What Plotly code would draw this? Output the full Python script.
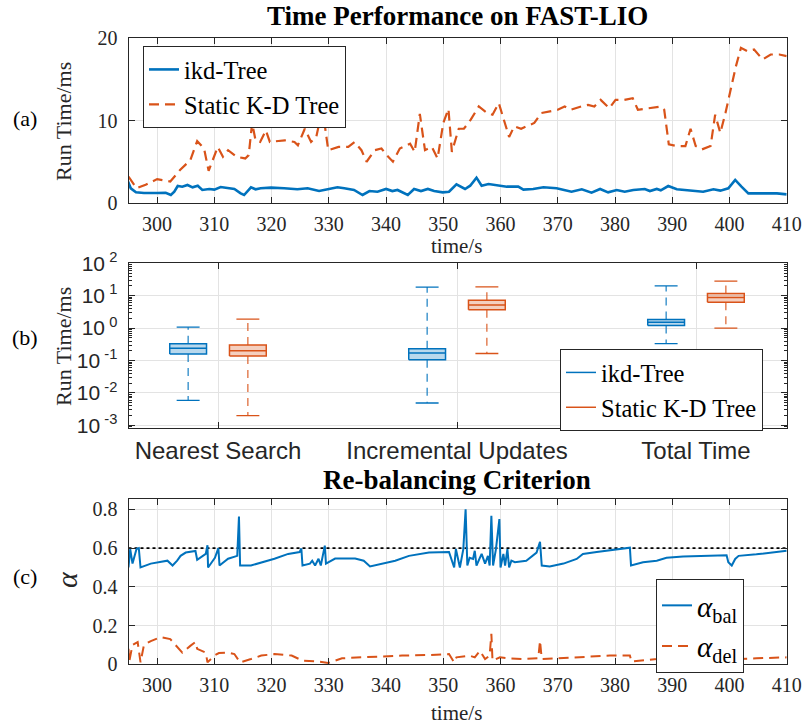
import plotly.graph_objects as go

# ---------------- data ----------------
# (a) run time per scan on FAST-LIO [ms]
t_ikd = [294.8, 295.4, 296.3, 297.7, 300, 301.5, 302.4, 303, 303.6, 304.4,
         305.3, 306.2, 307.1, 307.9, 309.1, 310, 311.1, 312.3, 313.5, 314.6,
         315.2, 316.4, 317.2, 318.1, 319.9, 322.2, 324.5, 326.3, 328.3, 329.8,
         331.5, 332.7, 334.4, 335.9, 337.1, 338.5, 340, 341.1, 342, 343.8,
         344.9, 346.1, 347.3, 348.4, 349.9, 351, 352.3, 353.8, 354.7, 355.8,
         356.7, 357.9, 359.3, 361.1, 363.1, 364, 365.7, 367.5, 369.8, 372.4,
         374.2, 375.9, 377.4, 378.8, 380.3, 381.7, 383.2, 385.2, 386.1, 387.3,
         388, 389.3, 390.8, 393.1, 395.4, 397.2, 398.4, 399.8, 401, 402.1,
         403.3, 405.9, 408.3, 410]
v_ikd = [2.8, 1.78, 1.29, 1.21, 1.21, 1.25, 0.97, 1.37, 2.06, 1.98,
         2.18, 1.9, 2.1, 1.58, 1.7, 1.62, 1.94, 1.86, 1.7, 1.17,
         0.97, 1.9, 1.66, 1.78, 1.86, 1.78, 1.66, 1.78, 1.45, 1.66,
         1.9, 1.78, 1.58, 0.97, 1.45, 1.37, 1.7, 1.45, 1.58, 0.97,
         1.7, 1.45, 1.7, 1.45, 1.29, 1.37, 2.26, 1.7, 2.1, 3.07,
         2.1, 2.3, 2.18, 1.98, 1.98, 1.62, 1.7, 1.9, 1.78, 1.37,
         1.66, 1.25, 1.7, 1.29, 1.58, 1.37, 1.58, 1.7, 1.45, 1.7,
         1.54, 2.06, 1.66, 1.5, 1.37, 1.66, 1.5, 1.78, 2.79, 1.98,
         1.17, 1.17, 1.17, 1.05]

t_static = [295, 296.4, 298, 300, 302.3, 304, 305.8, 307, 308.2, 309,
            310.6, 311.5, 312.4, 313.9, 315.4, 316, 316.6, 317.2, 318, 319,
            319.7, 322.3, 324, 324.6, 325.8, 326.9, 327.8, 328.4, 329, 329.9,
            331.7, 333.4, 334.5, 335.7, 336.6, 338, 339.2, 340.1, 341.2, 342.4,
            344.2, 345, 345.9, 346.8, 348, 349, 350, 350.9, 351.5, 352.7,
            353.6, 354.8, 356.2, 357.7, 358.6, 359.7, 361.5, 362.4, 363.6, 365.9,
            367.1, 368.3, 370, 371.2, 372.3, 374.1, 375.3, 376.4, 377.5, 379,
            380.1, 381.6, 383.1, 384, 385.7, 388, 388.6, 389.4, 390.9, 392.3,
            393.2, 394.1, 395.2, 396.7, 397.5, 398.4, 399.3, 400.2, 401.1, 402,
            403.1, 404.3, 405.8, 407.2, 408.7, 410]
v_static = [3.2, 1.8, 2.2, 2.9, 2.6, 4.0, 5.2, 7.5, 6.6, 3.9,
            6.8, 5.6, 6.4, 5.6, 5.4, 5.8, 9.7, 7.6, 7.4, 8.8,
            7.4, 7.6, 7.4, 7.0, 9.0, 7.4, 8.0, 9.9, 10.9, 6.4,
            6.8, 6.8, 7.4, 6.4, 5.0, 6.4, 6.6, 5.8, 5.0, 6.6,
            7.2, 6.2, 10.8, 6.4, 6.8, 5.4, 9.7, 11.4, 6.2, 9.0,
            9.0, 10.1, 11.7, 10.9, 10.7, 12.1, 8.0, 9.3, 9.0, 9.7,
            10.9, 11.1, 11.3, 11.7, 11.3, 11.7, 11.9, 11.7, 12.5, 11.5,
            12.5, 12.5, 12.7, 11.3, 11.5, 11.7, 11.3, 7.1, 6.9, 6.9,
            9.0, 6.9, 6.5, 6.9, 10.7, 8.5, 10.9, 13.7, 16.5, 18.8,
            18.4, 18.6, 17.4, 18.0, 18.0, 17.8]

# (b) run time statistics [ms]
categories = ["Nearest Search", "Incremental Updates", "Total Time"]
ikd_lower = [0.0059, 0.0049, 0.335]
ikd_q1 = [0.16, 0.105, 1.2]
ikd_median = [0.24, 0.17, 1.53]
ikd_q3 = [0.33, 0.23, 1.84]
ikd_upper = [1.07, 18.5, 20.0]
static_lower = [0.002, 0.165, 1.0]
static_q1 = [0.137, 3.7, 6.3]
static_median = [0.20, 5.2, 8.8]
static_q3 = [0.30, 7.3, 11.7]
static_upper = [1.9, 18.8, 28.0]

# (c) re-balancing criterion
t_bal = [295, 295.3, 295.7, 296.4, 296.8, 297.1, 298.9, 300.6, 301.8, 302.7,
         303.5, 304.1, 305, 306.7, 307, 308.5, 308.8, 308.9, 310.1, 310.7,
         310.9, 312.4, 314, 314.3, 314.5, 316.4, 318.2, 320.5, 322.9, 324.9,
         325.2, 325.4, 326.7, 327.1, 327.6, 328.2, 328.6, 329.3, 329.5, 331.1,
         334.6, 336.1, 337.2, 339.3, 341.6, 344, 347.5, 351, 351.9, 352.2,
         352.9, 353.5, 353.9, 354.2, 354.6, 355.2, 355.5, 355.8, 356.7, 357.3,
         357.8, 358.1, 358.4, 358.7, 359.2, 359.8, 360, 360.5, 360.8, 361.2,
         361.5, 361.9, 362.5, 364.5, 366.3, 366.9, 367.2, 368.6, 371, 373.3,
         374.4, 376.8, 379.1, 381.4, 382.6, 382.8, 384.9, 387.3, 389, 391.9,
         395.4, 399.5, 399.8, 400.4, 401, 401.6, 404.7, 407.7, 410]
v_bal = [0.50, 0.595, 0.52, 0.595, 0.60, 0.50, 0.52, 0.53, 0.535, 0.51,
         0.535, 0.56, 0.577, 0.585, 0.54, 0.57, 0.615, 0.50, 0.55, 0.60,
         0.51, 0.545, 0.56, 0.763, 0.51, 0.51, 0.525, 0.545, 0.57, 0.58,
         0.598, 0.51, 0.52, 0.535, 0.51, 0.545, 0.51, 0.613, 0.52, 0.546,
         0.546, 0.535, 0.505, 0.52, 0.535, 0.56, 0.577, 0.58, 0.50, 0.595,
         0.50, 0.595, 0.80, 0.51, 0.55, 0.544, 0.586, 0.51, 0.57, 0.52,
         0.56, 0.51, 0.767, 0.51, 0.595, 0.75, 0.50, 0.57, 0.51, 0.595,
         0.50, 0.535, 0.527, 0.535, 0.577, 0.633, 0.51, 0.505, 0.52, 0.544,
         0.57, 0.58, 0.59, 0.598, 0.602, 0.51, 0.527, 0.535, 0.55, 0.556,
         0.56, 0.563, 0.527, 0.51, 0.544, 0.56, 0.568, 0.577, 0.586]

t_del = [295, 295.1, 295.7, 296.6, 297.1, 297.7, 298.9, 300.6, 302.3, 303.5,
         304.4, 305.8, 306.7, 307, 308.5, 308.8, 310, 310.8, 312.3, 313.5,
         314.5, 316.4, 318.2, 320.5, 323.5, 325.4, 328.2, 329.9, 332.3, 335.8,
         339.3, 342.8, 347.5, 351, 351.9, 352.3, 354.6, 355.5, 356.4, 357.3,
         358.1, 358.4, 358.6, 359.9, 361.6, 364, 366.6, 366.9, 367.2, 369.8,
         375.6, 379.1, 382.6, 382.9, 387.3, 389.6, 393.1, 397.8, 399.8, 400.1,
         401.3, 404.7, 410]
v_del = [0.08, 0.01, 0.10, 0.115, 0.01, 0.10, 0.12, 0.14, 0.13, 0.09,
         0.06, 0.095, 0.115, 0.08, 0.06, 0.01, 0.045, 0.058, 0.06, 0.053,
         0.01, 0.027, 0.045, 0.053, 0.045, 0.019, 0.014, 0.007, 0.031, 0.036,
         0.041, 0.045, 0.048, 0.053, 0.01, 0.036, 0.045, 0.036, 0.07, 0.027,
         0.045, 0.157, 0.019, 0.036, 0.031, 0.027, 0.031, 0.122, 0.027, 0.031,
         0.036, 0.045, 0.045, 0.014, 0.027, 0.036, 0.045, 0.053, 0.058, 0.01,
         0.027, 0.031, 0.036]
alpha_threshold = 0.6

# ---------------- style ----------------
W, H = 803, 727
BLUE = "#0072BD"
ORANGE = "#D95319"
AX = "#262626"
GRID = "#e3e3e3"
SERIF = "Liberation Serif"
SANS = "Liberation Sans"
DASH = "10px,6px"


def px_x(p):
    return p / W


def px_y(p):
    return 1 - p / H


fig = go.Figure()

# ---- (a) time series ----
fig.add_trace(go.Scatter(x=t_ikd, y=v_ikd, mode="lines", name="ikd-Tree",
                         line=dict(color=BLUE, width=2.6), xaxis="x", yaxis="y",
                         legend="legend"))
fig.add_trace(go.Scatter(x=t_static, y=v_static, mode="lines", name="Static K-D Tree",
                         line=dict(color=ORANGE, width=2.2, dash=DASH),
                         xaxis="x", yaxis="y", legend="legend"))


# ---- (b) box plots drawn from the summary statistics ----
def box_paths(offset, lower, q1, med, q3, upper, half=0.077, cap=0.048):
    fx, fy, ox, oy, wx, wy, cx, cy = [], [], [], [], [], [], [], []
    for i in range(len(categories)):
        c = i + 1 + offset
        poly_x = [c - half, c + half, c + half, c - half, c - half, None]
        poly_y = [q1[i], q1[i], q3[i], q3[i], q1[i], None]
        fx += poly_x
        fy += poly_y
        ox += poly_x + [c - half, c + half, None]
        oy += poly_y + [med[i], med[i], None]
        wx += [c, c, None, c, c, None]
        wy += [q3[i], upper[i], None, q1[i], lower[i], None]
        cx += [c - cap, c + cap, None, c - cap, c + cap, None]
        cy += [upper[i], upper[i], None, lower[i], lower[i], None]
    return fx, fy, ox, oy, wx, wy, cx, cy


for name, color, fill, off, stats in [
    ("ikd-Tree", BLUE, "rgba(0,114,189,0.28)", -0.125,
     (ikd_lower, ikd_q1, ikd_median, ikd_q3, ikd_upper)),
    ("Static K-D Tree", ORANGE, "rgba(217,83,25,0.28)", 0.125,
     (static_lower, static_q1, static_median, static_q3, static_upper)),
]:
    fx, fy, ox, oy, wx, wy, cx, cy = box_paths(off, *stats)
    fig.add_trace(go.Scatter(x=fx, y=fy, mode="lines", fill="toself", fillcolor=fill,
                             line=dict(width=0, color=fill), showlegend=False,
                             hoverinfo="skip", xaxis="x2", yaxis="y2"))
    fig.add_trace(go.Scatter(x=wx, y=wy, mode="lines", showlegend=False,
                             line=dict(color=color, width=1.1, dash="8px,6px"),
                             xaxis="x2", yaxis="y2"))
    fig.add_trace(go.Scatter(x=cx, y=cy, mode="lines", showlegend=False,
                             line=dict(color=color, width=1.3), xaxis="x2", yaxis="y2"))
    fig.add_trace(go.Scatter(x=ox, y=oy, mode="lines", name=name,
                             line=dict(color=color, width=1.5), xaxis="x2", yaxis="y2",
                             legend="legend2"))

# ---- (c) re-balancing criterion ----
fig.add_trace(go.Scatter(x=[295, 410], y=[alpha_threshold, alpha_threshold], mode="lines",
                         line=dict(color="black", width=1.6, dash="dot"),
                         showlegend=False, xaxis="x3", yaxis="y3"))
fig.add_trace(go.Scatter(x=t_bal, y=v_bal, mode="lines",
                         name="<i>α</i><sub>bal</sub>",
                         line=dict(color=BLUE, width=2), xaxis="x3", yaxis="y3",
                         legend="legend3"))
fig.add_trace(go.Scatter(x=t_del, y=v_del, mode="lines",
                         name="<i>α</i><sub>del</sub>",
                         line=dict(color=ORANGE, width=2, dash=DASH), xaxis="x3", yaxis="y3",
                         legend="legend3"))

# ---------------- axes ----------------
xdom = [px_x(128.5), px_x(786.7)]
common = dict(showline=True, linecolor=AX, linewidth=1, mirror="ticks",
              ticks="inside", ticklen=6, tickcolor=AX, tickwidth=1,
              showgrid=True, gridcolor=GRID, gridwidth=1, zeroline=False,
              automargin=False)
serif_ticks = dict(family=SERIF, size=20, color=AX)

fig.update_layout(
    xaxis=dict(domain=xdom, anchor="y", range=[295, 410], tickvals=list(range(300, 411, 10)),
               tickfont=serif_ticks, ticklabelstandoff=3, **common),
    yaxis=dict(domain=[px_y(203), px_y(38)], anchor="x", range=[0, 20], tickvals=[0, 10, 20],
               tickfont=serif_ticks, ticklabelstandoff=6, **common),
    xaxis2=dict(domain=xdom, anchor="y2", range=[0.6255, 3.3795], tickvals=[1, 2, 3],
                ticktext=categories, tickfont=dict(family=SANS, size=24, color=AX),
                ticklabelstandoff=1, **common),
    yaxis2=dict(domain=[px_y(428.3), px_y(263.3)], anchor="x2", type="log", range=[-3.09, 2],
                tickvals=[1e-3, 1e-2, 1e-1, 1, 10, 100],
                ticktext=["10<sup> -3</sup>", "10<sup> -2</sup>", "10<sup> -1</sup>",
                          "10<sup> 0</sup>", "10<sup> 1</sup>", "10<sup> 2</sup>"],
                tickfont=dict(family=SANS, size=21, color=AX), ticklabelstandoff=6,
                minor=dict(tickmode="array",
                           tickvals=[k * 10 ** e for e in range(-4, 2) for k in range(2, 10)],
                           ticks="inside", ticklen=3, tickcolor=AX, showgrid=False),
                **common),
    xaxis3=dict(domain=xdom, anchor="y3", range=[295, 410], tickvals=list(range(300, 411, 10)),
                tickfont=serif_ticks, ticklabelstandoff=3, **common),
    yaxis3=dict(domain=[px_y(664.3), px_y(499.3)], anchor="x3", range=[0, 0.852],
                tickvals=[0, 0.2, 0.4, 0.6, 0.8], ticktext=["0", "0.2", "0.4", "0.6", "0.8"],
                tickfont=serif_ticks, ticklabelstandoff=6, **common),
)

legend_box = dict(bgcolor="white", bordercolor=AX, borderwidth=1,
                  xanchor="left", yanchor="top", tracegroupgap=0,
                  font=dict(family=SERIF, size=24.5, color="black"))
fig.update_layout(
    legend=dict(x=px_x(143), y=px_y(46), **legend_box),
    legend2=dict(x=px_x(560), y=px_y(349), **legend_box),
    legend3=dict(x=px_x(656), y=px_y(579), **{**legend_box,
                 "font": dict(family=SERIF, size=29, color="black")}),
)


# ---------------- text ----------------
def label(text, x, y, size, family=SERIF, angle=0, color="black"):
    fig.add_annotation(text=text, x=px_x(x), y=px_y(y), xref="paper", yref="paper",
                       showarrow=False, xanchor="center", yanchor="middle",
                       textangle=angle, font=dict(family=family, size=size, color=color))


label("<b>Time Performance on FAST-LIO</b>", 457.5, 16, 27)
label("<b>Re-balancing Criterion</b>", 456.7, 480, 27)
label("(a)", 24.5, 118, 22)
label("(b)", 24.5, 338, 22)
label("(c)", 24.5, 576, 22)
label("Run Time/ms", 63, 121, 22, angle=-90, color=AX)
label("Run Time/ms", 63, 346, 22, angle=-90, color=AX)
label("<i>α</i>", 66, 580, 30, angle=-90, color=AX)
label("time/s", 456.7, 245.5, 21, color=AX)
label("time/s", 456.7, 713, 21, color=AX)

fig.update_layout(width=W, height=H,
                  margin=dict(l=0, r=0, t=0, b=0, autoexpand=False),
                  paper_bgcolor="white", plot_bgcolor="white",
                  font=dict(family=SERIF, color=AX))

fig.write_html("out.html")
